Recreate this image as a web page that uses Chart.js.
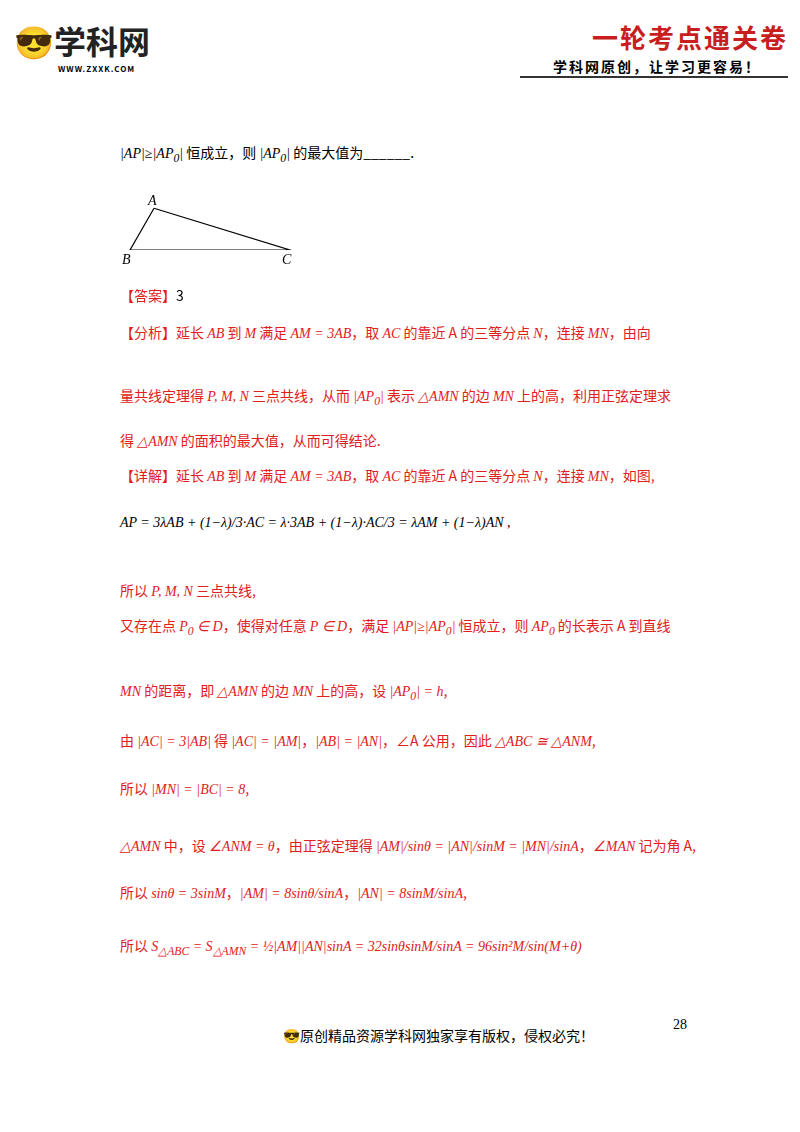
<!DOCTYPE html>
<html><head><meta charset="utf-8">
<script src="https://cdn.jsdelivr.net/npm/chart.js@4"></script>
<style>
body{margin:0;width:800px;height:1132px;background:#fff;font-family:"Noto Sans CJK SC","Noto Sans",serif;position:relative;overflow:hidden}
.t{position:absolute;font-size:14px;color:#000;white-space:nowrap}
.r{color:#e02020}
.m{font-family:"Liberation Serif",serif;font-style:italic}
#cw{position:absolute;left:110px;top:174px;width:200px;height:80px}
</style></head><body>
<div class="t" style="left:14px;top:20px;font-size:32px;line-height:40px;font-weight:bold;color:#222">😎学科网</div>
<div class="t" style="left:58px;top:64px;font-size:8px;line-height:10px;font-weight:bold;letter-spacing:1px">WWW.ZXXK.COM</div>
<div class="t" style="left:592px;top:18px;font-size:26px;font-weight:bold;color:#c81e1e;letter-spacing:2px">一轮考点通关卷</div>
<div class="t" style="left:553px;top:56px;font-size:14px;font-weight:bold;letter-spacing:2px">学科网原创，让学习更容易！</div>
<div style="position:absolute;left:520px;top:76px;width:268px;height:2px;background:#333"></div>

<div class="t" style="left:120px;top:142px"><span class="m">|AP|≥|AP<sub>0</sub>|</span> 恒成立，则 <span class="m">|AP<sub>0</sub>|</span> 的最大值为______.</div>
<div id="cw"><canvas id="c"></canvas></div>
<div class="t m" style="left:148px;top:193px">A</div>
<div class="t m" style="left:122px;top:252px">B</div>
<div class="t m" style="left:282px;top:252px">C</div>

<div class="t" style="left:120px;top:285px"><span class="r">【答案】</span>3</div>
<div class="t r" style="left:120px;top:322px">【分析】延长 <span class="m">AB</span> 到 <span class="m">M</span> 满足 <span class="m">AM = 3AB</span>，取 <span class="m">AC</span> 的靠近 A 的三等分点 <span class="m">N</span>，连接 <span class="m">MN</span>，由向</div>
<div class="t r" style="left:120px;top:385px">量共线定理得 <span class="m">P, M, N</span> 三点共线，从而 <span class="m">|AP<sub>0</sub>|</span> 表示 <span class="m">△AMN</span> 的边 <span class="m">MN</span> 上的高，利用正弦定理求</div>
<div class="t r" style="left:120px;top:430px">得 <span class="m">△AMN</span> 的面积的最大值，从而可得结论.</div>
<div class="t r" style="left:120px;top:465px">【详解】延长 <span class="m">AB</span> 到 <span class="m">M</span> 满足 <span class="m">AM = 3AB</span>，取 <span class="m">AC</span> 的靠近 A 的三等分点 <span class="m">N</span>，连接 <span class="m">MN</span>，如图,</div>
<div class="t m" style="left:120px;top:515px">AP = 3λAB + (1−λ)/3·AC = λ·3AB + (1−λ)·AC/3 = λAM + (1−λ)AN ,</div>
<div class="t r" style="left:120px;top:580px">所以 <span class="m">P, M, N</span> 三点共线,</div>
<div class="t r" style="left:120px;top:615px">又存在点 <span class="m">P<sub>0</sub> ∈ D</span>，使得对任意 <span class="m">P ∈ D</span>，满足 <span class="m">|AP|≥|AP<sub>0</sub>|</span> 恒成立，则 <span class="m">AP<sub>0</sub></span> 的长表示 A 到直线</div>
<div class="t r" style="left:120px;top:680px"><span class="m">MN</span> 的距离，即 <span class="m">△AMN</span> 的边 <span class="m">MN</span> 上的高，设 <span class="m">|AP<sub>0</sub>| = h</span>,</div>
<div class="t r" style="left:120px;top:730px">由 <span class="m">|AC| = 3|AB|</span> 得 <span class="m">|AC| = |AM|</span>，<span class="m">|AB| = |AN|</span>，∠A 公用，因此 <span class="m">△ABC ≅ △ANM</span>,</div>
<div class="t r" style="left:120px;top:778px">所以 <span class="m">|MN| = |BC| = 8</span>,</div>
<div class="t r" style="left:120px;top:835px"><span class="m">△AMN</span> 中，设 <span class="m">∠ANM = θ</span>，由正弦定理得 <span class="m">|AM|/sinθ = |AN|/sinM = |MN|/sinA</span>，<span class="m">∠MAN</span> 记为角 A,</div>
<div class="t r" style="left:120px;top:882px">所以 <span class="m">sinθ = 3sinM</span>，<span class="m">|AM| = 8sinθ/sinA</span>，<span class="m">|AN| = 8sinM/sinA</span>,</div>
<div class="t r" style="left:120px;top:935px">所以 <span class="m">S<sub>△ABC</sub> = S<sub>△AMN</sub> = ½|AM||AN|sinA = 32sinθsinM/sinA = 96sin²M/sin(M+θ)</span></div>
<div class="t" style="left:673px;top:1017px;font-family:'Liberation Serif'">28</div>
<div class="t" style="left:283px;top:1025px;font-size:14px">😎原创精品资源学科网独家享有版权，侵权必究！</div>
<script>
const triX=[1.5,0,10,1.5];
const triY=[0.58,0,0,0.58];
new Chart(document.getElementById('c'),{type:'scatter',
data:{datasets:[{data:triX.map((x,i)=>({x,y:triY[i]})),showLine:true,borderColor:'#000',borderWidth:1.2,pointRadius:0,fill:false}]},
options:{animation:false,responsive:true,maintainAspectRatio:false,plugins:{legend:{display:false},tooltip:{enabled:false}},
layout:{padding:4},scales:{x:{display:false,min:-1,max:11},y:{display:false,min:0,max:1}}}});
</script>
</body></html>
